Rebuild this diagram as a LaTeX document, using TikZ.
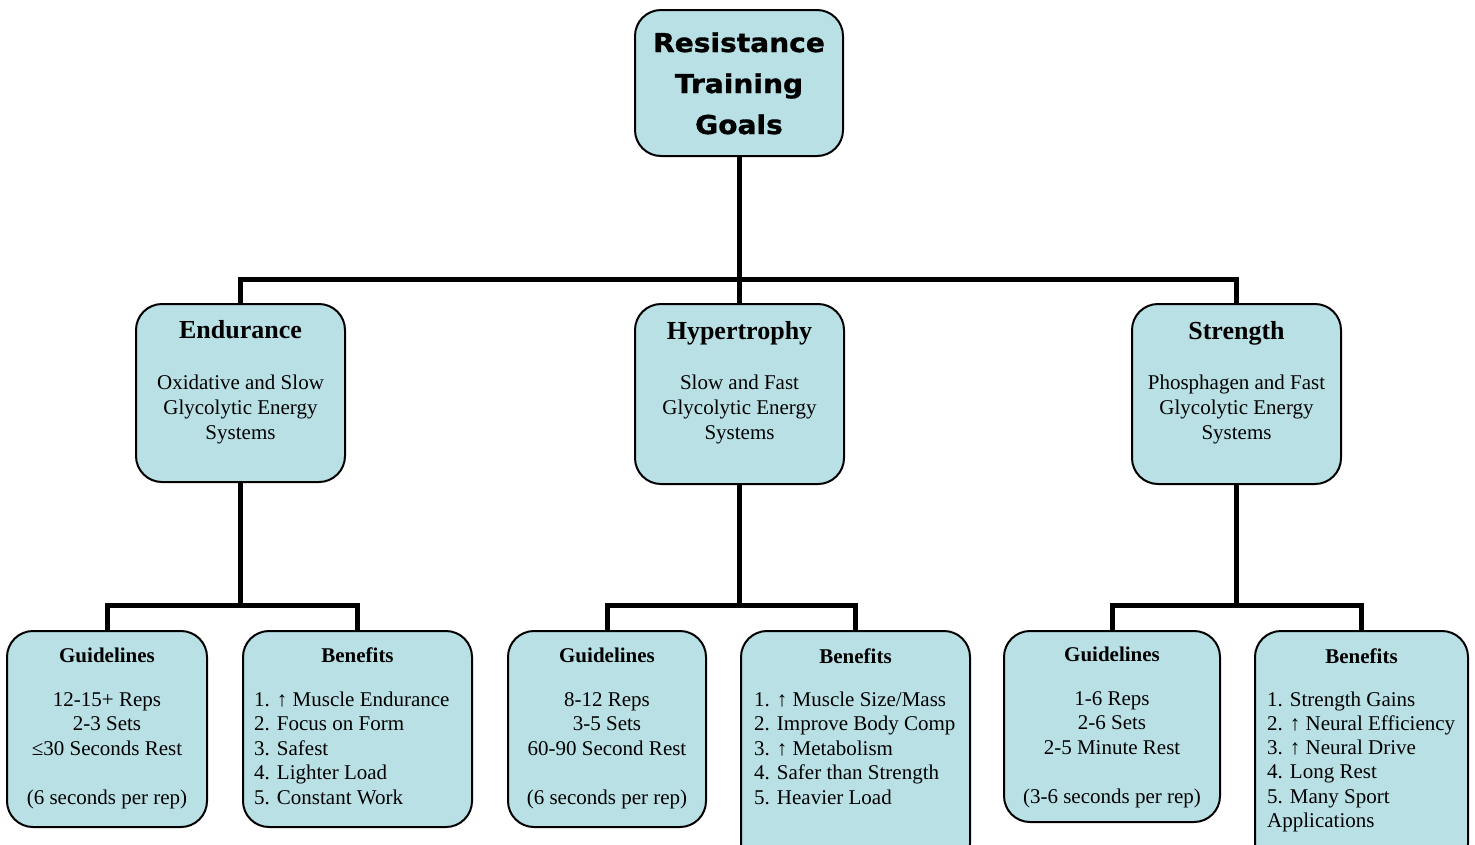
\documentclass[tikz,border=0pt]{standalone}
\usepackage{fontspec}
\setmainfont{Liberation Serif}
\newfontfamily\titlefont[FakeStretch=1.08, BoldFeatures={FakeBold=1.2}]{DejaVu Sans}
\definecolor{boxfill}{RGB}{185,224,228}
\tikzset{
  box/.style={draw=black, line width=2pt, fill=boxfill, rounded corners=26pt, inner sep=0pt, outer sep=0pt},
  conn/.style={line width=5pt, draw=black, line join=miter},
  ttl/.style={font=\titlefont\bfseries\fontsize{26}{41}\selectfont, anchor=base, inner sep=0pt},
  head/.style={font=\bfseries\fontsize{26}{30}\selectfont, anchor=base, inner sep=0pt},
  sub/.style={font=\bfseries\fontsize{21}{25}\selectfont, anchor=base, inner sep=0pt},
  body/.style={font=\fontsize{21}{25}\selectfont, anchor=base, inner sep=0pt},
  lbody/.style={body, anchor=base west},
}
\begin{document}
\begin{tikzpicture}[x=1pt,y=-1pt]
\useasboundingbox (0,0) rectangle (1475,844);
\fill[white] (0,0) rectangle (1475,844);
\clip (0,0) rectangle (1475,844);

% boxes
\node[box, minimum width=208, minimum height=146] (title) at (739,83) {};
\node[box, minimum width=209, minimum height=178] (endur) at (240.5,393) {};
\node[box, minimum width=209, minimum height=180] (hyper) at (739.5,394) {};
\node[box, minimum width=209, minimum height=180] (stren) at (1236.5,394) {};
\node[box, minimum width=200, minimum height=196] (eg) at (107,729) {};
\node[box, minimum width=229, minimum height=196] (eb) at (357.5,729) {};
\node[box, minimum width=198, minimum height=196] (hg) at (607,729) {};
\node[box, minimum width=229, minimum height=239] (hb) at (855.5,750.5) {};
\node[box, minimum width=216, minimum height=191] (sg) at (1112,726.5) {};
\node[box, minimum width=213, minimum height=239] (sb) at (1361.5,750.5) {};

% connectors
\coordinate (j1) at (739,279);
\coordinate (je) at (240.5,605);
\coordinate (jh) at (739.5,605);
\coordinate (js) at (1236.5,605);
\draw[conn] (title.south) -- (j1);
\draw[conn] (endur.north) |- (j1) -| (stren.north);
\draw[conn] (hyper.north) -- (hyper.north |- j1);
\draw[conn] (endur.south) -- (je);
\draw[conn] (eg.north) |- (je) -| (eb.north);
\draw[conn] (hyper.south) -- (jh);
\draw[conn] (hg.north) |- (jh) -| (hb.north);
\draw[conn] (stren.south) -- (js);
\draw[conn] (sg.north) |- (js) -| (sb.north);

% title text
\node[ttl] (t1) at (739,52) {Resistance};
\node[ttl] (t2) at (739,93) {Training};
\node[ttl] (t3) at (739,134) {Goals};

% middle level
\node[head] (eh) at (240.5,338) {Endurance};
\node[body] (e1) at (240.5,389) {Oxidative and Slow};
\node[body] (e2) at (240.5,414) {Glycolytic Energy};
\node[body] (e3) at (240.5,439) {Systems};

\node[head] (hh) at (739.5,339) {Hypertrophy};
\node[body] (h1) at (739.5,389) {Slow and Fast};
\node[body] (h2) at (739.5,414) {Glycolytic Energy};
\node[body] (h3) at (739.5,439) {Systems};

\node[head] (sh) at (1236.5,339) {Strength};
\node[body] (s1) at (1236.5,389) {Phosphagen and Fast};
\node[body] (s2) at (1236.5,414) {Glycolytic Energy};
\node[body] (s3) at (1236.5,439) {Systems};

% endurance guidelines
\node[sub] (egh) at (107,662) {Guidelines};
\node[body] (eg1) at (107,706) {12-15+ Reps};
\node[body] (eg2) at (107,730.5) {2-3 Sets};
\node[body] (eg3) at (107,755) {≤30 Seconds Rest};
\node[body] (eg4) at (107,804) {(6 seconds per rep)};

% endurance benefits
\node[sub] (ebh) at (357.5,662) {Benefits};
\node[lbody] (eb1) at (254,706) {1. ↑ Muscle Endurance};
\node[lbody] (eb2) at (254,730.5) {2. Focus on Form};
\node[lbody] (eb3) at (254,755) {3. Safest};
\node[lbody] (eb4) at (254,779.5) {4. Lighter Load};
\node[lbody] (eb5) at (254,804) {5. Constant Work};

% hypertrophy guidelines
\node[sub] (hgh) at (607,662) {Guidelines};
\node[body] (hg1) at (607,706) {8-12 Reps};
\node[body] (hg2) at (607,730.5) {3-5 Sets};
\node[body] (hg3) at (607,755) {60-90 Second Rest};
\node[body] (hg4) at (607,804) {(6 seconds per rep)};

% hypertrophy benefits
\node[sub] (hbh) at (855.5,663) {Benefits};
\node[lbody] (hb1) at (754,706) {1. ↑ Muscle Size/Mass};
\node[lbody] (hb2) at (754,730.5) {2. Improve Body Comp};
\node[lbody] (hb3) at (754,755) {3. ↑ Metabolism};
\node[lbody] (hb4) at (754,779.5) {4. Safer than Strength};
\node[lbody] (hb5) at (754,804) {5. Heavier Load};

% strength guidelines
\node[sub] (sgh) at (1112,661) {Guidelines};
\node[body] (sg1) at (1112,705) {1-6 Reps};
\node[body] (sg2) at (1112,729.5) {2-6 Sets};
\node[body] (sg3) at (1112,754) {2-5 Minute Rest};
\node[body] (sg4) at (1112,803) {(3-6 seconds per rep)};

% strength benefits
\node[sub] (sbh) at (1361.5,663) {Benefits};
\node[lbody] (sb1) at (1267,706) {1. Strength Gains};
\node[lbody] (sb2) at (1267,730.3) {2. ↑ Neural Efficiency};
\node[lbody] (sb3) at (1267,754.6) {3. ↑ Neural Drive};
\node[lbody] (sb4) at (1267,778.9) {4. Long Rest};
\node[lbody] (sb5) at (1267,803.2) {5. Many Sport};
\node[lbody] (sb6) at (1267,827.5) {Applications};
\end{tikzpicture}
\end{document}
